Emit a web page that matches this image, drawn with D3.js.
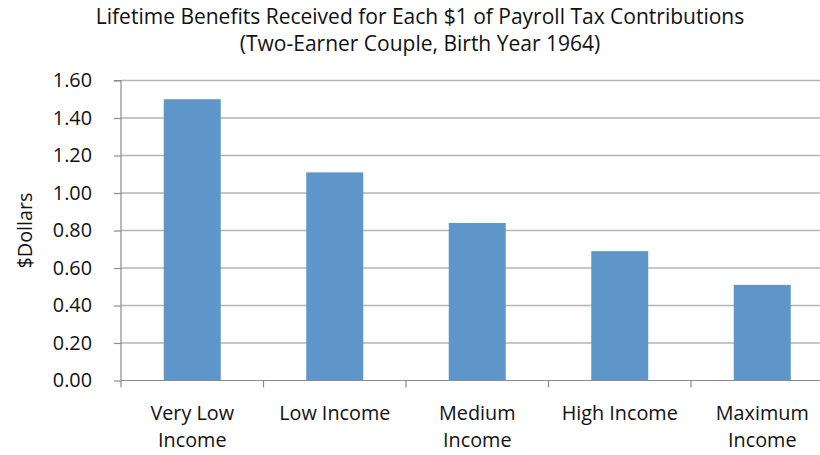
<!DOCTYPE html>
<html>
<head>
<meta charset="utf-8">
<script src="https://cdn.jsdelivr.net/npm/d3@7"></script>
<style>
  html, body { margin: 0; padding: 0; background: #fff; overflow: hidden; }
  svg { display: block; }
  svg text { font-family: "Open Sans", "Noto Sans", sans-serif; }
</style>
</head>
<body>
<svg id="chart" width="820" height="455"></svg>
<script>
// Lifetime benefits per $1 of payroll tax, by earnings level
const categories = ["Very Low Income", "Low Income", "Medium Income", "High Income", "Maximum Income"];
const benefitsPerDollar = [1.50, 1.11, 0.84, 0.69, 0.51];
const yTicks = [0, 0.2, 0.4, 0.6, 0.8, 1.0, 1.2, 1.4, 1.6];
const titleLines = ["Lifetime Benefits Received for Each $1 of Payroll Tax Contributions",
                    "(Two-Earner Couple, Birth Year 1964)"];
const yAxisTitle = "$Dollars";

const svg = d3.select("#chart");
const plot = { left: 121, right: 833.5, top: 80.5, bottom: 380.5 };
const labelSize = "19.8px";

const x = d3.scaleBand()
  .domain(categories)
  .range([plot.left, plot.right])
  .paddingInner(0.6)
  .paddingOuter(0.3);

const y = d3.scaleLinear()
  .domain([0, 1.6])
  .range([plot.bottom, plot.top]);

// horizontal gridlines
svg.append("g")
  .selectAll("line")
  .data(yTicks.filter(d => d > 0))
  .join("line")
  .attr("x1", plot.left).attr("x2", plot.right)
  .attr("y1", d => y(d)).attr("y2", d => y(d))
  .attr("stroke", "#b4b4b4")
  .attr("stroke-width", 1.3);

// bars
svg.append("g")
  .selectAll("rect")
  .data(categories)
  .join("rect")
  .attr("x", d => x(d))
  .attr("width", x.bandwidth())
  .attr("y", (d, i) => y(benefitsPerDollar[i]))
  .attr("height", (d, i) => y(0) - y(benefitsPerDollar[i]))
  .attr("fill", "#5f96ca");

// y axis
const yAxis = d3.axisLeft(y)
  .tickValues(yTicks)
  .tickFormat(d3.format(".2f"))
  .tickSize(7)
  .tickPadding(22);

const gy = svg.append("g")
  .attr("transform", `translate(${plot.left},0)`)
  .call(yAxis)
  .attr("font-family", null)
  .attr("font-size", null);
gy.select(".domain").attr("stroke", "#8c8c8c").attr("stroke-width", 1.2)
  .attr("d", `M-7,${plot.top}H0V${plot.bottom}`);
gy.selectAll(".tick line").attr("stroke", "#8c8c8c").attr("stroke-width", 1.2);
gy.selectAll(".tick text")
  .attr("fill", "#111")
  .style("font-size", labelSize);

// x axis
const xAxis = d3.axisBottom(x).tickSize(0).tickPadding(0);
const gx = svg.append("g")
  .attr("transform", `translate(0,${plot.bottom})`)
  .call(xAxis)
  .attr("font-family", null)
  .attr("font-size", null);
gx.select(".domain").attr("stroke", "#8c8c8c").attr("stroke-width", 1.2)
  .attr("d", `M${plot.left},0H${plot.right}`);

// category separators below the baseline
const step = x.step();
gx.append("g")
  .selectAll("line")
  .data(d3.range(categories.length + 1))
  .join("line")
  .attr("x1", i => plot.left + i * step)
  .attr("x2", i => plot.left + i * step)
  .attr("y1", 0).attr("y2", 7)
  .attr("stroke", "#8c8c8c").attr("stroke-width", 1.2);

// wrap category labels onto lines
gx.selectAll(".tick text").each(function (d) {
  const t = d3.select(this);
  t.text(null)
    .attr("fill", "#111")
    .attr("y", null)
    .attr("dy", null)
    .style("font-size", labelSize);
  const words = d.split(" ");
  const maxW = step * 0.9;
  let line = [];
  const lines = [];
  const probe = t.append("tspan");
  words.forEach(w => {
    const trial = line.concat([w]).join(" ");
    probe.text(trial);
    if (probe.node().getComputedTextLength() > maxW && line.length) {
      lines.push(line.join(" "));
      line = [w];
    } else {
      line.push(w);
    }
  });
  lines.push(line.join(" "));
  probe.remove();
  lines.forEach((l, i) => {
    t.append("tspan")
      .attr("x", 0)
      .attr("y", 39.5 + i * 27)
      .text(l);
  });
});

// y axis title
svg.append("text")
  .attr("transform", `translate(32,${(plot.top + plot.bottom) / 2}) rotate(-90)`)
  .attr("text-anchor", "middle")
  .attr("fill", "#111")
  .style("font-size", labelSize)
  .text(yAxisTitle);

// chart title
svg.append("g")
  .selectAll("text")
  .data(titleLines)
  .join("text")
  .attr("x", 420)
  .attr("y", (d, i) => 24 + i * 27)
  .attr("text-anchor", "middle")
  .attr("fill", "#111")
  .style("font-size", "21px")
  .text(d => d);
</script>
</body>
</html>
